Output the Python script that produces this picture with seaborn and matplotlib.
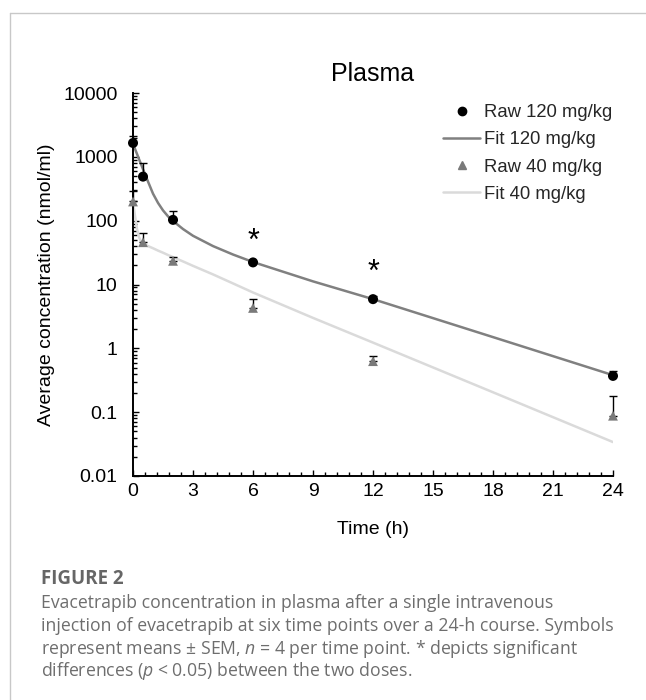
import matplotlib
matplotlib.use('Agg')
import matplotlib.pyplot as plt
import matplotlib.ticker as mticker
from matplotlib.lines import Line2D
import pandas as pd
import seaborn as sns

# Raw means (nmol/ml) and upper SEM
time_h = [0, 0.5, 2, 6, 12, 24]
raw_120 = [1650, 490, 103, 22.2, 5.9, 0.37]
sem_120 = [500, 300, 38, 1.5, 0.6, 0.07]
raw_40 = [200, 46, 23.5, 4.3, 0.63, 0.088]
sem_40 = [90, 19, 3.9, 1.7, 0.13, 0.09]

# Fitted curves
fit_time = [0, 0.1, 0.2, 0.3, 0.4, 0.5, 0.75, 1, 1.25, 1.5, 1.75, 2, 2.5, 3, 4, 5, 6, 9, 12, 18, 24]
fit_120 = [1600, 1330, 1110, 920, 770, 640, 410, 265, 190, 145, 117, 99, 74, 58, 40, 29.5, 22.5, 11.2, 5.9, 1.5, 0.38]
fit_40 = [200, 118, 74, 55, 47.5, 44, 40, 37, 34, 31.5, 29, 26.8, 23, 19.6, 14.4, 10.4, 7.5, 3.0, 1.23, 0.205, 0.034]

# significance marks (text baseline level)
star_time = [6, 12]
star_level = [35, 11.3]

xtick_vals = [0, 3, 6, 9, 12, 15, 18, 21, 24]
ytick_vals = [0.01, 0.1, 1, 10, 100, 1000, 10000]
ytick_labels = ['0.01', '0.1', '1', '10', '100', '1000', '10000']

caption_head = 'FIGURE 2'
caption_lines = [
    'Evacetrapib concentration in plasma after a single intravenous',
    'injection of evacetrapib at six time points over a 24-h course. Symbols',
    'represent means \u00b1 SEM, $n$ = 4 per time point. * depicts significant',
    'differences ($p$ < 0.05) between the two doses.',
]

sns.set_theme(style='ticks')
plt.rcParams['font.family'] = ['Liberation Sans', 'DejaVu Sans']
plt.rcParams['mathtext.fontset'] = 'custom'
plt.rcParams['mathtext.it'] = 'Open Sans:italic'
plt.rcParams['mathtext.rm'] = 'Open Sans'

df_raw = pd.DataFrame({'time': time_h, 'r120': raw_120, 'r40': raw_40})
df_fit = pd.DataFrame({'time': fit_time, 'f120': fit_120, 'f40': fit_40})

fig = plt.figure(figsize=(6.46, 7.0), dpi=100)
ax = fig.add_axes([0.2059, 0.32, 0.743, 0.5471])

# fits
sns.lineplot(data=df_fit, x='time', y='f120', ax=ax, color='#808080', linewidth=1.8, zorder=2)
sns.lineplot(data=df_fit, x='time', y='f40', ax=ax, color='#dadada', linewidth=1.8, zorder=1)

# error bars (plus direction only)
ax.errorbar(time_h, raw_120, yerr=[[0] * len(sem_120), sem_120], fmt='none', ecolor='black',
            elinewidth=1, capsize=3, capthick=1, zorder=3, clip_on=False)
ax.errorbar(time_h, raw_40, yerr=[[0] * len(sem_40), sem_40], fmt='none', ecolor='black',
            elinewidth=1, capsize=3, capthick=1, zorder=3, clip_on=False)

# raw points
sns.scatterplot(data=df_raw, x='time', y='r120', ax=ax, marker='o', color='black', s=52,
                edgecolor='none', zorder=4, clip_on=False)
sns.scatterplot(data=df_raw, x='time', y='r40', ax=ax, marker='^', color='#7a7a7a', s=50,
                edgecolor='none', zorder=4, clip_on=False)

for t, lv in zip(star_time, star_level):
    ax.text(t, lv, '*', ha='center', va='baseline', fontsize=22, color='black')

ax.set_yscale('log')
ax.set_xlim(0, 24)
ax.set_ylim(0.01, 10000)
ax.set_xticks(xtick_vals)
ax.xaxis.set_minor_locator(mticker.MultipleLocator(0.6))
ax.yaxis.set_major_locator(mticker.FixedLocator(ytick_vals))
ax.set_yticklabels(ytick_labels)
ax.yaxis.set_minor_locator(mticker.LogLocator(base=10, subs=range(2, 10), numticks=20))
ax.yaxis.set_minor_formatter(mticker.NullFormatter())

ax.tick_params(axis='both', which='both', direction='in', color='black', width=1)
ax.tick_params(axis='both', which='major', length=4, labelsize=14, labelcolor='black')
ax.tick_params(axis='both', which='minor', length=3)
ax.tick_params(axis='y', which='major', pad=11)
ax.tick_params(axis='x', which='major', pad=5)

for side in ['top', 'right']:
    ax.spines[side].set_visible(False)
for side in ['left', 'bottom']:
    ax.spines[side].set_linewidth(1.4)
    ax.spines[side].set_color('black')

ax.set_xlabel('Time (h)', fontsize=14, labelpad=15, color='black')
ax.set_ylabel('Average concentration (nmol/ml)', fontsize=14, labelpad=6, color='black')
ax.set_title('Plasma', fontsize=18, pad=9, color='black')

handles = [
    Line2D([], [], marker='o', linestyle='none', color='black', markersize=6),
    Line2D([], [], color='#808080', linewidth=1.8),
    Line2D([], [], marker='^', linestyle='none', color='#7a7a7a', markersize=6),
    Line2D([], [], color='#dadada', linewidth=1.8),
]
labels = ['Raw 120 mg/kg', 'Fit 120 mg/kg', 'Raw 40 mg/kg', 'Fit 40 mg/kg']
fig.legend(handles, labels, loc='upper left', bbox_to_anchor=(0.6719, 0.8643), frameon=False,
           fontsize=13.3, handlelength=2.0, handletextpad=0.2, labelspacing=0.55, borderpad=0)

# page frame lines
fig.add_artist(Line2D([0.0155, 1.0], [0.9814, 0.9814], color='#c8c8c8', linewidth=1))
fig.add_artist(Line2D([0.0155, 0.0155], [0.0, 0.9814], color='#c8c8c8', linewidth=1))

# caption
fig.text(0.0635, 0.1729, caption_head, fontsize=13.5, fontweight='bold', color='#666666',
         family=['Open Sans', 'DejaVu Sans'], va='center', ha='left')
cap_y = [0.1386, 0.1058, 0.0729, 0.0415]
for yy, line in zip(cap_y, caption_lines):
    fig.text(0.0635, yy, line, fontsize=12.7, color='#6e6e6e', family=['Open Sans', 'DejaVu Sans'],
             va='center', ha='left')

fig.savefig('out.png', dpi=100)
